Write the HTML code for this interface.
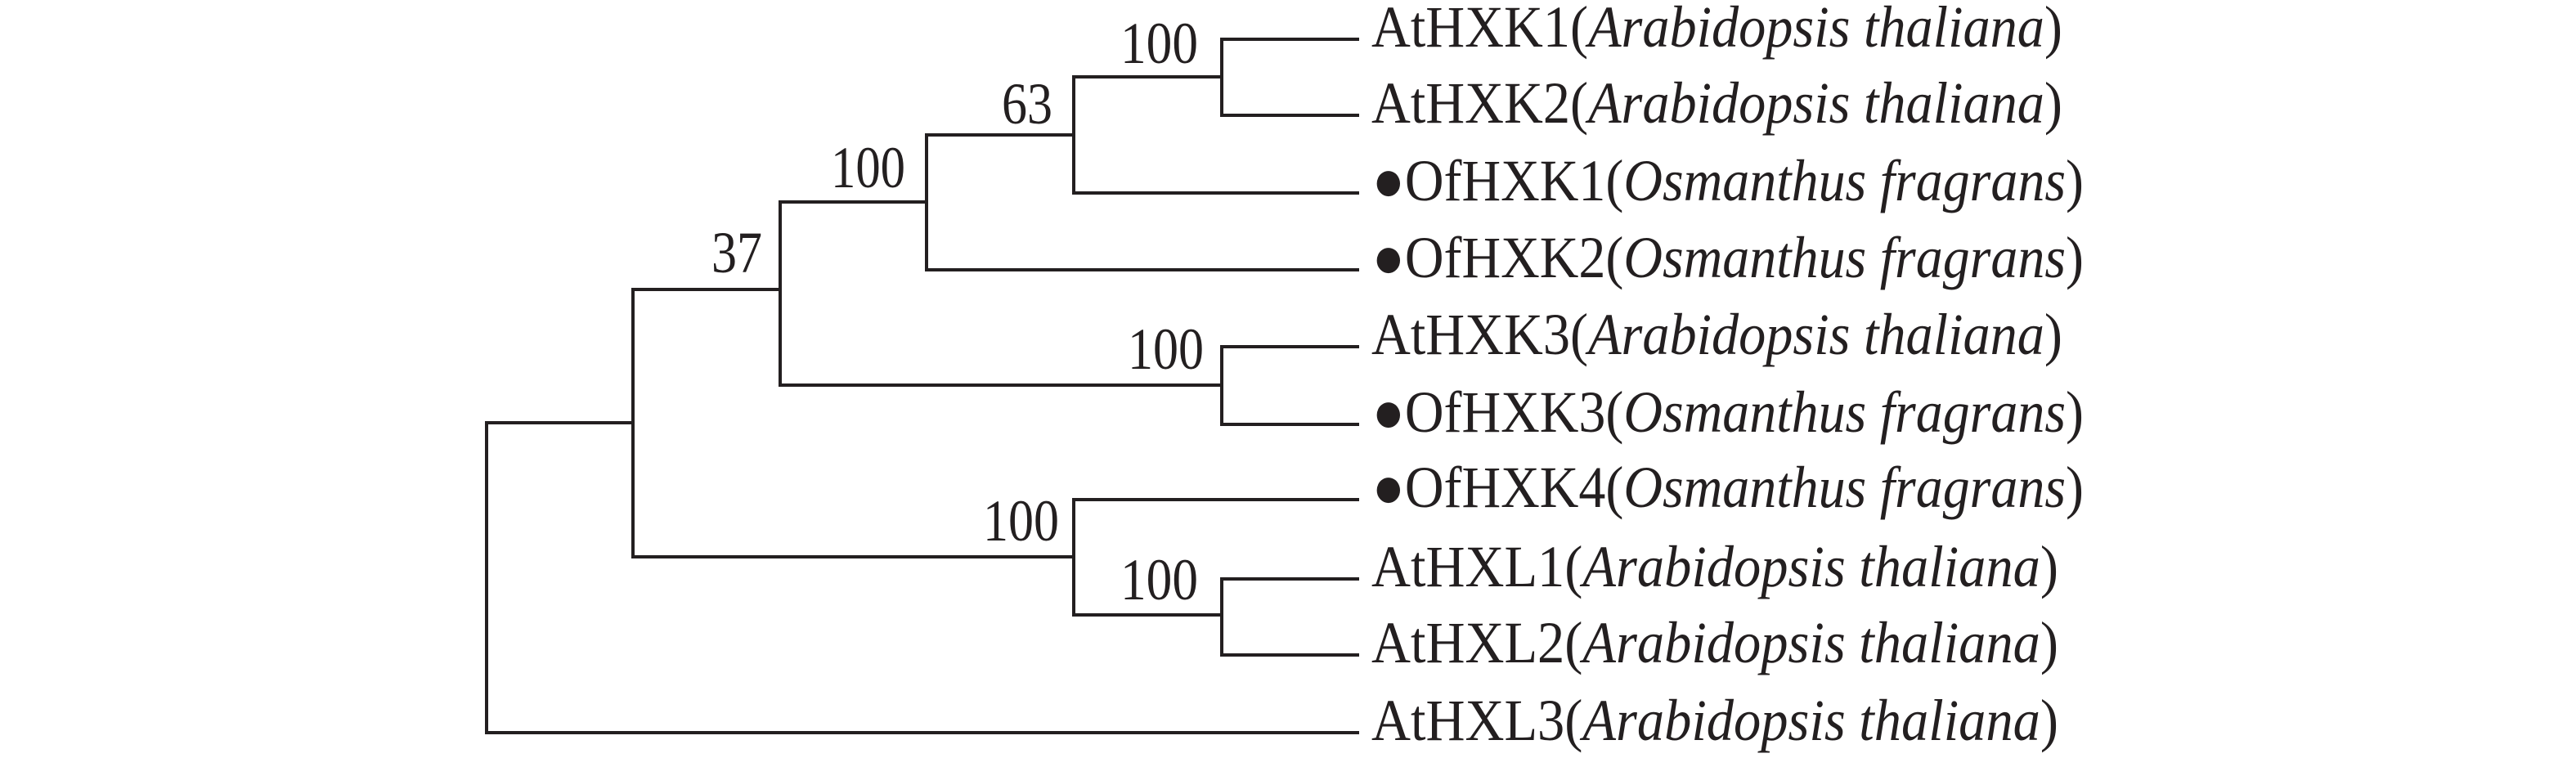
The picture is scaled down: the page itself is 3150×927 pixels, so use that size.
<!DOCTYPE html>
<html><head><meta charset="utf-8"><style>html,body{margin:0;padding:0;background:#fff}svg{display:block}</style></head>
<body>
<svg width="3150" height="927" viewBox="0 0 3150 927" xmlns="http://www.w3.org/2000/svg">
<g stroke="#231f20" stroke-width="4" fill="none" stroke-linecap="square">
<path d="M1494 48H1660M1494 141H1660M1494 48V141"/>
<path d="M1313 236H1660M1313 94H1494M1313 94V236"/>
<path d="M1133 330H1660M1133 165H1313M1133 165V330"/>
<path d="M1494 424H1660M1494 519H1660M1494 424V519M954 471H1494"/>
<path d="M954 247H1133M954 247V471"/>
<path d="M774 354H954M774 354V681M774 681H1313"/>
<path d="M1494 708H1660M1494 801H1660M1494 708V801M1313 752H1494"/>
<path d="M1313 611H1660M1313 611V752"/>
<path d="M595 517H774M595 517V896M595 896H1660"/>
</g>
<g font-family="'Liberation Serif',serif" font-size="72" fill="#231f20">
<text x="1370" y="77" textLength="95" lengthAdjust="spacingAndGlyphs">100</text>
<text x="1225" y="151" textLength="62" lengthAdjust="spacingAndGlyphs">63</text>
<text x="1016" y="229" textLength="91" lengthAdjust="spacingAndGlyphs">100</text>
<text x="870" y="333" textLength="62" lengthAdjust="spacingAndGlyphs">37</text>
<text x="1379" y="451" textLength="93" lengthAdjust="spacingAndGlyphs">100</text>
<text x="1202" y="661" textLength="93" lengthAdjust="spacingAndGlyphs">100</text>
<text x="1370" y="733" textLength="95" lengthAdjust="spacingAndGlyphs">100</text>

<text x="1677" y="57" textLength="845" lengthAdjust="spacingAndGlyphs">AtHXK1(<tspan font-style="italic">Arabidopsis thaliana</tspan>)</text>
<text x="1677" y="150" textLength="845" lengthAdjust="spacingAndGlyphs">AtHXK2(<tspan font-style="italic">Arabidopsis thaliana</tspan>)</text>
<text x="1678" y="245" textLength="870" lengthAdjust="spacingAndGlyphs">●OfHXK1(<tspan font-style="italic">Osmanthus fragrans</tspan>)</text>
<text x="1678" y="339" textLength="870" lengthAdjust="spacingAndGlyphs">●OfHXK2(<tspan font-style="italic">Osmanthus fragrans</tspan>)</text>
<text x="1677" y="433" textLength="845" lengthAdjust="spacingAndGlyphs">AtHXK3(<tspan font-style="italic">Arabidopsis thaliana</tspan>)</text>
<text x="1678" y="528" textLength="870" lengthAdjust="spacingAndGlyphs">●OfHXK3(<tspan font-style="italic">Osmanthus fragrans</tspan>)</text>
<text x="1678" y="620" textLength="870" lengthAdjust="spacingAndGlyphs">●OfHXK4(<tspan font-style="italic">Osmanthus fragrans</tspan>)</text>
<text x="1677" y="717" textLength="840" lengthAdjust="spacingAndGlyphs">AtHXL1(<tspan font-style="italic">Arabidopsis thaliana</tspan>)</text>
<text x="1677" y="810" textLength="840" lengthAdjust="spacingAndGlyphs">AtHXL2(<tspan font-style="italic">Arabidopsis thaliana</tspan>)</text>
<text x="1677" y="905" textLength="840" lengthAdjust="spacingAndGlyphs">AtHXL3(<tspan font-style="italic">Arabidopsis thaliana</tspan>)</text>
</g>
</svg>
</body></html>
